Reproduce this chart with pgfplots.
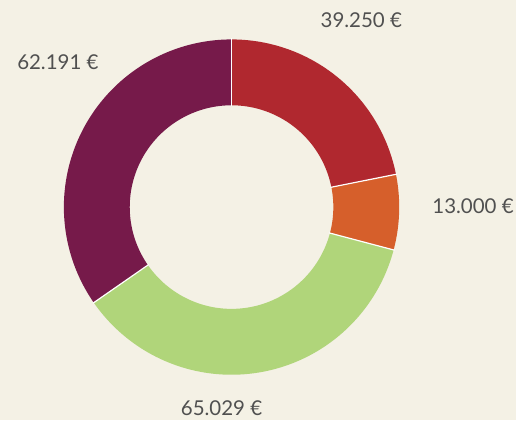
\documentclass[border=0pt]{standalone}
\usepackage{pgfplots}
\usepackage{pgfplotstable}
\pgfplotsset{compat=1.18}
\usepackage{fontspec}
\setmainfont{Lato}

\definecolor{bg}{HTML}{F4F1E5}
\definecolor{cred}{HTML}{B0282F}
\definecolor{corange}{HTML}{D65F2B}
\definecolor{cgreen}{HTML}{B0D57A}
\definecolor{cpurple}{HTML}{761A4A}
\definecolor{txt}{HTML}{505050}

% slices clockwise from 12 o'clock; label position in pixel space
\pgfplotstableread{
value  col     lx   ly
39250  cred    362  401
13000  corange 474  214
65029  cgreen  222  12
62191  cpurple 58   359
}\donut

% slice angles (\fpeval, the values are too big for plain pgfmath)
\def\total{0}
\pgfplotsforeachungrouped \i in {0,...,3}{%
  \pgfplotstablegetelem{\i}{value}\of\donut
  \edef\total{\fpeval{\total+\pgfplotsretval}}%
}
\def\a{90}
\pgfplotsforeachungrouped \i in {0,...,3}{%
  \pgfplotstablegetelem{\i}{value}\of\donut
  \edef\b{\fpeval{round(\a-360*\pgfplotsretval/\total,4)}}%
  \expandafter\xdef\csname start\i\endcsname{\a}%
  \expandafter\xdef\csname end\i\endcsname{\b}%
  \let\a\b
}

\begin{document}
\begin{tikzpicture}
\begin{axis}[
    x=1pt, y=1pt,
    xmin=0, xmax=517, ymin=0, ymax=421,
    hide axis, clip=false,
    /pgf/number format/assume math mode=true,
  ]
\fill[bg] (axis cs:0,0) rectangle (axis cs:517,421);
\pgfplotsforeachungrouped \i in {0,...,3}{%
  \pgfplotstablegetelem{\i}{value}\of\donut \let\v\pgfplotsretval
  \pgfplotstablegetelem{\i}{col}\of\donut \let\c\pgfplotsretval
  \pgfplotstablegetelem{\i}{lx}\of\donut \let\lx\pgfplotsretval
  \pgfplotstablegetelem{\i}{ly}\of\donut \let\ly\pgfplotsretval
  \edef\a{\csname start\i\endcsname}\edef\b{\csname end\i\endcsname}%
  \edef\temp{%
    \noexpand\addplot[draw=\c, line width=66pt, domain=\b:\a, samples=120]
      ({232+135*cos(x)},{213.5+135*sin(x)});
    \noexpand\node[text=txt, font=\noexpand\fontsize{20.5}{24}\noexpand\selectfont]
      at (axis cs:\lx,\ly) {\noexpand\pgfmathprintnumber[fixed, precision=0, 1000 sep={.}]{\v}~€};
  }\temp
}
% white separators between slices
\pgfplotsforeachungrouped \i in {0,...,3}{%
  \edef\a{\csname start\i\endcsname}%
  \edef\xa{\fpeval{round(232+101*cosd(\a),3)}}\edef\ya{\fpeval{round(213.5+101*sind(\a),3)}}%
  \edef\xb{\fpeval{round(232+169*cosd(\a),3)}}\edef\yb{\fpeval{round(213.5+169*sind(\a),3)}}%
  \edef\temp{\noexpand\addplot[white, line width=1.2pt] coordinates {(\xa,\ya) (\xb,\yb)};}\temp
}
\end{axis}
\end{tikzpicture}
\end{document}
